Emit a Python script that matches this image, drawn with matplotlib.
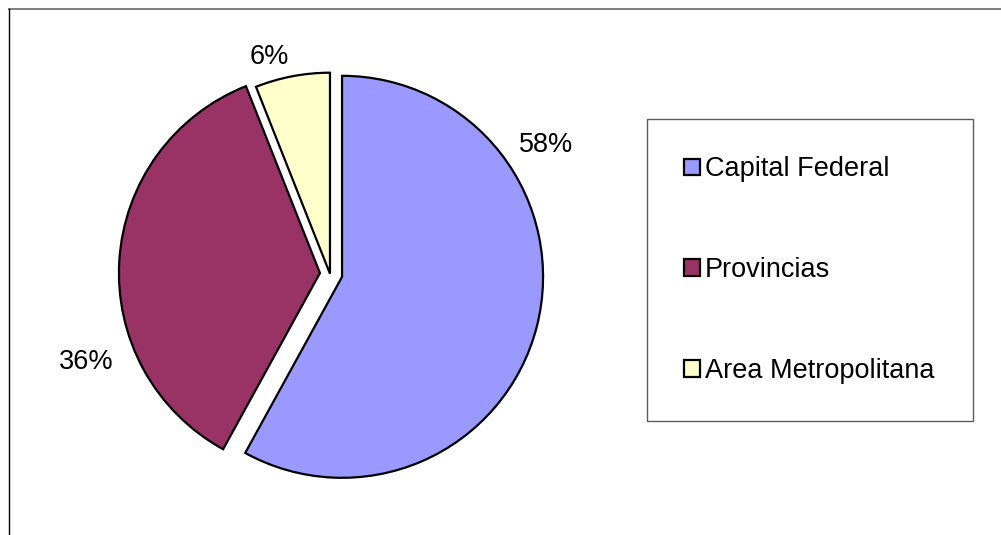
import matplotlib
matplotlib.use("Agg")
import matplotlib.pyplot as plt
from matplotlib.lines import Line2D

plt.rcParams['font.family'] = ['Liberation Sans', 'DejaVu Sans']

# datos
categorias = ['Capital Federal', 'Provincias', 'Area Metropolitana']
valores = [58, 36, 6]
colores = ['#9999FF', '#993366', '#FFFFCC']
separacion = [0.062, 0.05, 0.0]
etiquetas = ['58%', '36%', '6%']
pos_etiquetas = [(1.075, 0.642), (-1.214, -0.438), (-0.303, 1.08)]

fig = plt.figure(figsize=(10.01, 5.35), dpi=100)
ax = fig.add_axes([0.0686, 0.0, 0.5221, 0.9768])

wedges, _ = ax.pie(valores, colors=colores, explode=separacion, startangle=90,
                   counterclock=False, radius=1.0,
                   wedgeprops=dict(edgecolor='black', linewidth=1.6))
ax.set_xlim(-1.3, 1.3)
ax.set_ylim(-1.3, 1.3)
ax.set_aspect('auto')

for txt, (x, y) in zip(etiquetas, pos_etiquetas):
    ax.text(x, y, txt, ha='center', va='center', fontsize=19.5)

leg = fig.legend(wedges, categorias, loc='upper left',
                 bbox_to_anchor=(647 / 1001, 1 - 119 / 535, 326 / 1001, 0.0),
                 mode='expand', fontsize=19.5, frameon=True, fancybox=False,
                 borderpad=1.38, labelspacing=2.76, handlelength=0.56,
                 handleheight=0.56, handletextpad=0.2, borderaxespad=0)
leg.get_frame().set_edgecolor('#333333')
leg.get_frame().set_linewidth(1.0)
for h in leg.legend_handles:
    h.set_linewidth(1.6)

# marco exterior
fig.add_artist(Line2D([9 / 1001, 1.0], [1 - 9 / 535, 1 - 9 / 535],
                      transform=fig.transFigure, color='#808080', lw=1.5))
fig.add_artist(Line2D([9 / 1001, 9 / 1001], [0.0, 1 - 9 / 535],
                      transform=fig.transFigure, color='black', lw=1.0))

fig.savefig('out.png', dpi=100)
